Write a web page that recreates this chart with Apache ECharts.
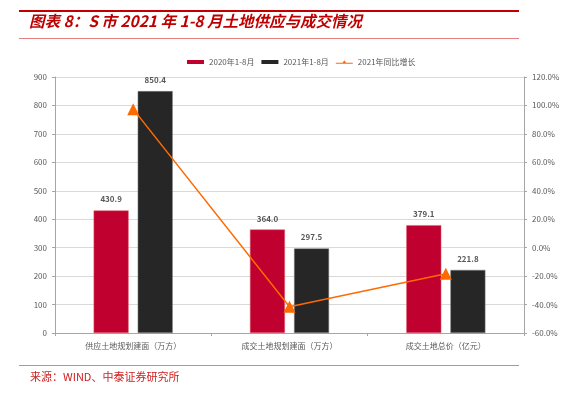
<!DOCTYPE html>
<html><head><meta charset="utf-8">
<script src="https://cdn.jsdelivr.net/npm/echarts@6/dist/echarts.min.js"></script>
<style>html,body{margin:0;padding:0;background:#fff}#c{width:568px;height:394px}</style>
</head><body><div id="c"></div>
<script>
const categories = ['供应土地规划建面（万方）', '成交土地规划建面（万方）', '成交土地总价（亿元）'];
const s2020 = [430.9, 364.0, 379.1];
const s2021 = [850.4, 297.5, 221.8];
const yoy = [97.4, -41.5, -18.3];
const leftTicks = {min: 0, max: 900, interval: 100};
const rightTicks = {min: -60, max: 120, interval: 20};
const seriesNames = ['2020年1-8月', '2021年1-8月', '2021年同比增长'];

const chart = echarts.init(document.getElementById('c'), null, {renderer: 'canvas'});
const font = '"Noto Sans CJK SC", "Open Sans", sans-serif';
chart.setOption({
  animation: false,
  textStyle: {fontFamily: font},
  graphic: [
    {type: 'rect', shape: {x: 19, y: 10, width: 500, height: 2}, style: {fill: '#C00000'}},
    {type: 'rect', shape: {x: 19, y: 38, width: 500, height: 1}, style: {fill: '#E08080'}},
    {type: 'text', left: 29, top: 13, style: {text: '图表 8：S 市 2021 年 1-8 月土地供应与成交情况', fill: '#C00000', font: 'italic bold 15.5px "Noto Sans CJK SC", sans-serif'}},
    {type: 'rect', shape: {x: 19, y: 365, width: 500, height: 1}, style: {fill: '#E08080'}},
    {type: 'text', left: 30, top: 371, style: {text: '来源：WIND、中泰证券研究所', fill: '#D02020', font: '11px "Noto Sans CJK SC", monospace'}}
  ],
  legend: {
    top: 53, left: 182, itemWidth: 17, itemHeight: 4, itemGap: 7,
    textStyle: {fontSize: 8, color: '#595959'},
    itemStyle: {borderWidth: 0},
    data: [
      {name: seriesNames[0], icon: 'rect'},
      {name: seriesNames[1], icon: 'rect'},
      {name: seriesNames[2], icon: 'path://M0,4 L8,4 L10,1 L12,4 L20,4 L20,5 L0,5 Z'}
    ]
  },
  grid: {left: 55, right: 44, top: 77, bottom: 61},
  xAxis: {
    type: 'category', data: categories,
    axisLine: {lineStyle: {color: '#A6A6A6'}},
    axisTick: {show: true, length: 3, lineStyle: {color: '#A6A6A6'}},
    axisLabel: {fontSize: 8, color: '#595959', margin: 9}
  },
  yAxis: [
    {type: 'value', min: leftTicks.min, max: leftTicks.max, interval: leftTicks.interval,
     axisLine: {show: true, lineStyle: {color: '#A6A6A6'}},
     axisTick: {show: true, length: 3, lineStyle: {color: '#A6A6A6'}},
     axisLabel: {fontSize: 8, color: '#595959', margin: 8},
     splitLine: {lineStyle: {color: '#D9D9D9'}}},
    {type: 'value', min: rightTicks.min, max: rightTicks.max, interval: rightTicks.interval,
     axisLine: {show: true, lineStyle: {color: '#A6A6A6'}},
     axisTick: {show: true, length: 3, lineStyle: {color: '#A6A6A6'}},
     axisLabel: {fontSize: 8, color: '#595959', margin: 8, formatter: v => v.toFixed(1) + '%'},
     splitLine: {show: false}}
  ],
  series: [
    {name: seriesNames[0], type: 'bar', data: s2020, barWidth: 35, barGap: '26%',
     itemStyle: {color: '#C0002E', borderColor: '#E0606E', borderWidth: 0.5},
     label: {show: true, position: 'top', distance: 7, fontSize: 8, fontWeight: 'bold', color: '#595959', formatter: p => p.value.toFixed(1)}},
    {name: seriesNames[1], type: 'bar', data: s2021, barWidth: 35,
     itemStyle: {color: '#262626', borderColor: '#808080', borderWidth: 0.5},
     label: {show: true, position: 'top', distance: 7, fontSize: 8, fontWeight: 'bold', color: '#595959', formatter: p => p.value.toFixed(1)}},
    {name: seriesNames[2], type: 'line', yAxisIndex: 1, data: yoy,
     symbol: 'triangle', symbolSize: 12,
     lineStyle: {color: '#FF6A00', width: 1.5},
     itemStyle: {color: '#FF6A00'}}
  ]
});
</script></body></html>
